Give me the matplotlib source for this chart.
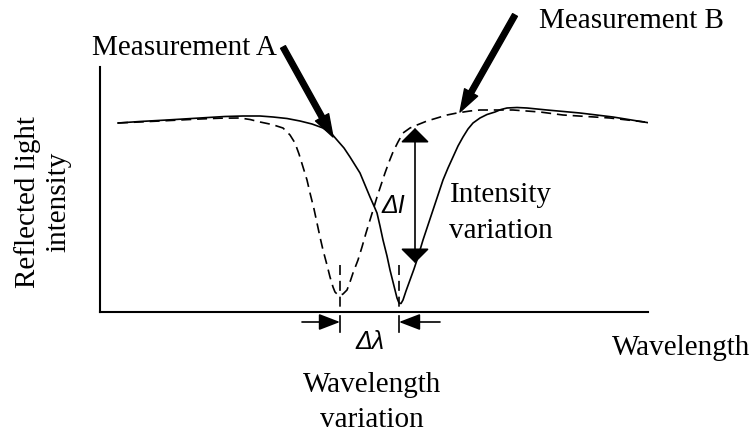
import matplotlib.pyplot as plt

plt.rcParams["font.family"] = ["Liberation Serif", "DejaVu Serif"]

# reflection spectrum, measurement A (solid)
wl_a = [18, 40, 67, 100, 125, 143, 160, 173, 187, 200, 212, 223, 231, 237, 244,
        250, 255, 260, 265, 270, 274, 277, 280, 283, 287, 290, 293, 295, 297, 299,
        301, 303, 306, 310, 314, 317, 320, 323, 328, 333, 338, 343, 348, 353, 358,
        363, 368, 373, 380, 387, 395, 401, 407, 417, 427, 447, 480, 513, 550]
int_a = [189, 190.5, 192, 194, 195.5, 196, 196, 195, 193.5, 191, 188, 184, 179, 172, 164,
         155, 147, 139, 127, 115, 106, 99, 86, 72, 56, 42, 30, 22, 14, 9,
         8.5, 12, 21, 32, 43, 52, 62, 72, 87, 102, 117, 132, 144, 155, 166,
         175, 183, 189, 194, 197.5, 200, 202.5, 204, 204.5, 204, 202, 199, 195, 189]

# reflection spectrum, measurement B (dashed), dip shifted to shorter wavelength
wl_b = [18, 60, 100, 120, 140, 150, 160, 172, 183, 190, 195, 199, 203, 207, 210,
        214, 217, 220, 223, 227, 230, 233, 235, 238, 240, 243, 247, 250, 253, 258,
        262, 266, 270, 274, 277, 281, 285, 289, 293, 298, 303, 310, 317, 327, 337,
        347, 357, 370, 380, 413, 440, 463, 510, 545]
int_b = [189, 191, 193, 193.8, 194, 192.5, 190, 187.5, 184, 177, 169, 158, 145, 132, 119,
         103, 89, 75, 62, 47, 35, 25, 20, 17, 16.5, 18, 22, 30, 39, 52,
         65, 79, 92, 105, 115, 127, 139, 150, 160, 170, 179, 184, 187, 191, 194,
         197, 199, 201, 202, 202, 200, 197, 194, 190]

dip_a = 299
dip_b = 240
di_top = 184
di_bottom = 49

dash = (0, (6, 3.5))
arrow_kw = dict(color="k", lw=1.2, shrinkA=0, shrinkB=0)
big_arrow = dict(arrowstyle="simple,head_length=0.9,head_width=0.6,tail_width=0.22",
                 mutation_scale=18, color="k", shrinkA=0, shrinkB=0)

fig = plt.figure(figsize=(7.56, 4.32), dpi=100)
ax = fig.add_axes([100 / 756, 120 / 432, 548 / 756, 245 / 432])
ax.set_xlim(0, 548)
ax.set_ylim(0, 245)
ax.spines["top"].set_visible(False)
ax.spines["right"].set_visible(False)
ax.spines["left"].set_linewidth(1.5)
ax.spines["bottom"].set_linewidth(1.5)
ax.set_xticks([])
ax.set_yticks([])

ax.plot(wl_a, int_a, color="k", lw=1.2)
ax.plot(wl_b, int_b, color="k", lw=1.2, ls=dash)

# dip markers
for x in [dip_b, dip_a]:
    ax.plot([x, x], [47, 0], color="k", lw=1.2, ls=dash)
    ax.plot([x, x], [-4, -20], color="k", lw=1.2, clip_on=False)

# wavelength shift arrows under the axis
ax.annotate("", xy=(dip_b, -10), xytext=(dip_b - 38, -10), annotation_clip=False,
            arrowprops=dict(arrowstyle="-|>,head_length=1.3,head_width=0.5",
                            mutation_scale=10, **arrow_kw))
ax.annotate("", xy=(dip_a, -10), xytext=(dip_a + 41, -10), annotation_clip=False,
            arrowprops=dict(arrowstyle="-|>,head_length=1.3,head_width=0.5",
                            mutation_scale=10, **arrow_kw))
ax.text((dip_a + dip_b) / 2, -37, "Δλ", ha="center", va="baseline", fontsize=18,
        family="Liberation Sans", style="italic")

# intensity change arrow
ax.annotate("", xy=(315, di_bottom), xytext=(315, di_top),
            arrowprops=dict(arrowstyle="<|-|>,head_length=0.9,head_width=0.9",
                            mutation_scale=10, **arrow_kw))
ax.text(293, 106, "ΔI", ha="center", va="center", fontsize=18,
        family="Liberation Sans", style="italic")

# measurement pointers
ax.annotate("", xy=(233, 175), xytext=(183, 265), annotation_clip=False,
            arrowprops=big_arrow)
ax.annotate("", xy=(360, 200), xytext=(415, 297), annotation_clip=False,
            arrowprops=big_arrow)

fs = 21
ax.text(84, 257, "Measurement A", ha="center", va="baseline", fontsize=fs, clip_on=False)
ax.text(531, 284, "Measurement B", ha="center", va="baseline", fontsize=fs, clip_on=False)
ax.text(401, 109.5, "Intensity", ha="center", va="baseline", fontsize=fs)
ax.text(401, 74, "variation", ha="center", va="baseline", fontsize=fs)
ax.text(272, -80, "Wavelength", ha="center", va="baseline", fontsize=fs, clip_on=False)
ax.text(272, -115, "variation", ha="center", va="baseline", fontsize=fs, clip_on=False)
ax.text(512, -43, "Wavelength", ha="left", va="baseline", fontsize=fs, clip_on=False)
ax.text(-57, 110, "Reflected light\nintensity", ha="center", va="center",
        rotation=90, fontsize=fs, multialignment="center", clip_on=False)

fig.savefig("out.png", dpi=100)
